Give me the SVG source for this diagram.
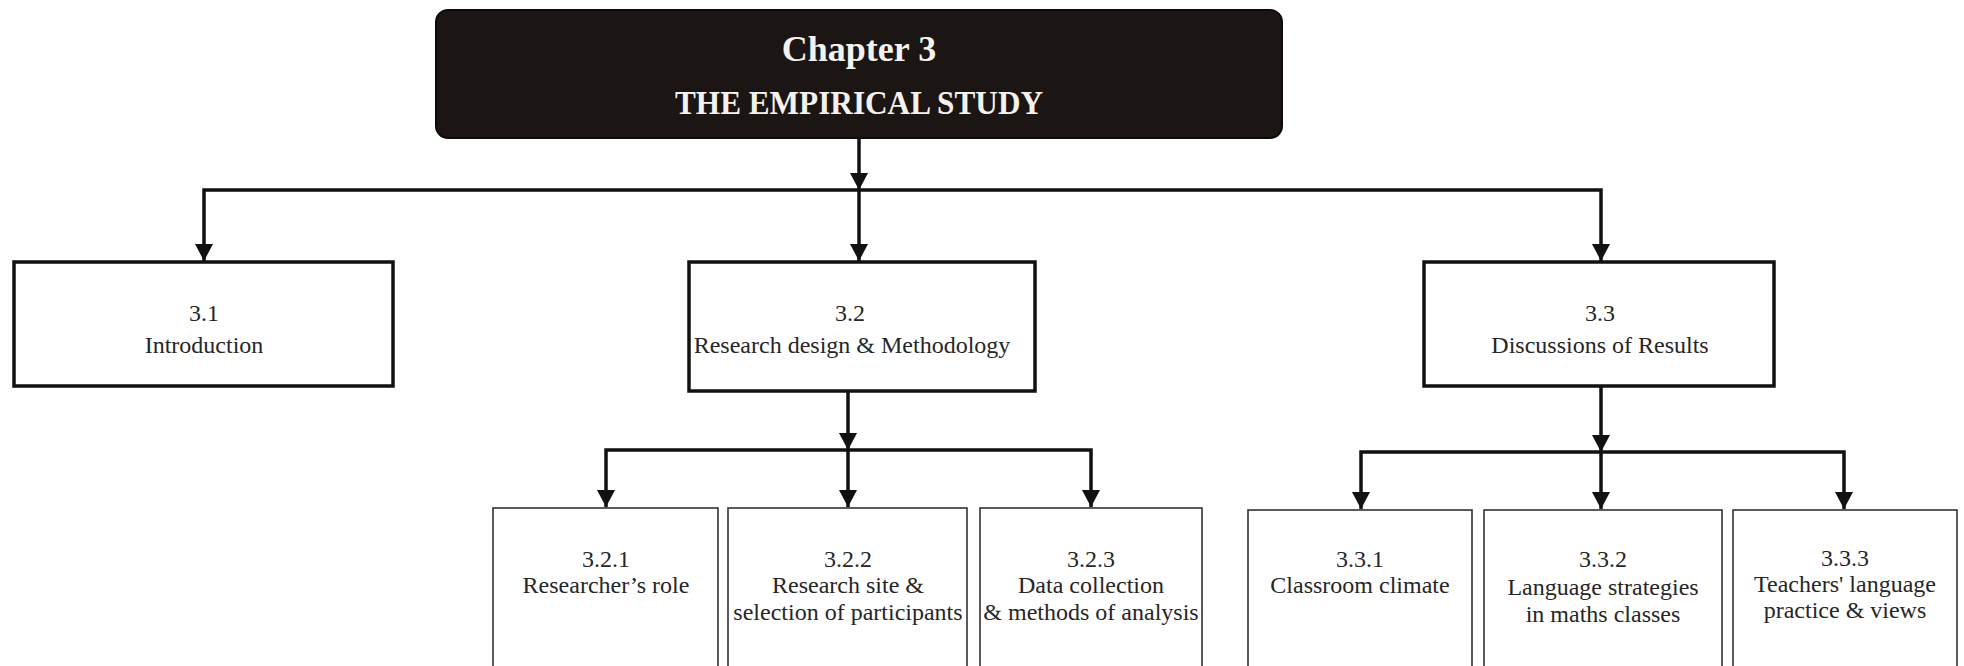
<svg xmlns="http://www.w3.org/2000/svg" width="1964" height="666" viewBox="0 0 1964 666">
<style>
.bg{fill:#ffffff}
.head{fill:#1b1514;stroke:#0e0a09;stroke-width:2}
.main{fill:#ffffff;stroke:#111;stroke-width:3.5}
.sub{fill:#ffffff;stroke:#333;stroke-width:1.6}
.t{font-family:"Liberation Serif","Times New Roman",serif;font-size:24px;fill:#262626;text-anchor:middle}
.h{font-family:"Liberation Serif","Times New Roman",serif;font-weight:bold;fill:#f4f2ee;text-anchor:middle}
.c{fill:none;stroke:#111;stroke-width:3.5;stroke-linejoin:miter}
</style>
<defs>
<marker id="ah" markerUnits="userSpaceOnUse" markerWidth="18" markerHeight="18" viewBox="0 0 18 18" refX="17" refY="9" orient="auto">
<path d="M0,0 L17,9 L0,18 z" fill="#111"/>
</marker>
</defs>
<rect class="bg" x="0" y="0" width="1964" height="666"/>

<g id="chapter">
<rect class="head" x="436" y="10" width="846" height="128" rx="12" ry="12"/>
<text class="h" x="859" y="61" font-size="36">Chapter 3</text>
<text class="h" x="859" y="114" font-size="33" textLength="368" lengthAdjust="spacingAndGlyphs">THE EMPIRICAL STUDY</text>
</g>

<g id="n3_1">
<rect class="main" x="14" y="262" width="379" height="124"/>
<text class="t" x="204" y="321">3.1</text>
<text class="t" x="204" y="353" font-size="25.5">Introduction</text>
</g>

<g id="n3_2">
<rect class="main" x="689" y="262" width="346" height="129"/>
<text class="t" x="850" y="321">3.2</text>
<text class="t" x="852" y="353" font-size="23">Research design &amp; Methodology</text>
</g>

<g id="n3_3">
<rect class="main" x="1424" y="262" width="350" height="124"/>
<text class="t" x="1600" y="321">3.3</text>
<text class="t" x="1600" y="353" font-size="24.5">Discussions of Results</text>
</g>

<g id="n3_2_1">
<rect class="sub" x="493" y="508" width="225" height="180"/>
<text class="t" x="606" y="567">3.2.1</text>
<text class="t" x="606" y="593">Researcher’s role</text>
</g>

<g id="n3_2_2">
<rect class="sub" x="728" y="508" width="239" height="180"/>
<text class="t" x="848" y="567">3.2.2</text>
<text class="t" x="848" y="593">Research site &amp;</text>
<text class="t" x="848" y="620">selection of participants</text>
</g>

<g id="n3_2_3">
<rect class="sub" x="980" y="508" width="222" height="180"/>
<text class="t" x="1091" y="567">3.2.3</text>
<text class="t" x="1091" y="593">Data collection</text>
<text class="t" x="1091" y="620">&amp; methods of analysis</text>
</g>

<g id="n3_3_1">
<rect class="sub" x="1248" y="510" width="224" height="180"/>
<text class="t" x="1360" y="567">3.3.1</text>
<text class="t" x="1360" y="593">Classroom climate</text>
</g>

<g id="n3_3_2">
<rect class="sub" x="1484" y="510" width="238" height="180"/>
<text class="t" x="1603" y="567">3.3.2</text>
<text class="t" x="1603" y="595">Language strategies</text>
<text class="t" x="1603" y="622">in maths classes</text>
</g>

<g id="n3_3_3">
<rect class="sub" x="1733" y="510" width="224" height="180"/>
<text class="t" x="1845" y="566">3.3.3</text>
<text class="t" x="1845" y="592">Teachers' language</text>
<text class="t" x="1845" y="618">practice &amp; views</text>
</g>

<g id="connectors">
<path class="c" d="M859,138 V190" marker-end="url(#ah)"/>
<path class="c" d="M859,190 H204 V261" marker-end="url(#ah)"/>
<path class="c" d="M859,190 V261" marker-end="url(#ah)"/>
<path class="c" d="M859,190 H1601 V261" marker-end="url(#ah)"/>

<path class="c" d="M848,391 V450" marker-end="url(#ah)"/>
<path class="c" d="M848,450 H606 V507" marker-end="url(#ah)"/>
<path class="c" d="M848,450 V507" marker-end="url(#ah)"/>
<path class="c" d="M848,450 H1091 V507" marker-end="url(#ah)"/>

<path class="c" d="M1601,386 V452" marker-end="url(#ah)"/>
<path class="c" d="M1601,452 H1361 V509" marker-end="url(#ah)"/>
<path class="c" d="M1601,452 V509" marker-end="url(#ah)"/>
<path class="c" d="M1601,452 H1844 V509" marker-end="url(#ah)"/>
</g>
</svg>
